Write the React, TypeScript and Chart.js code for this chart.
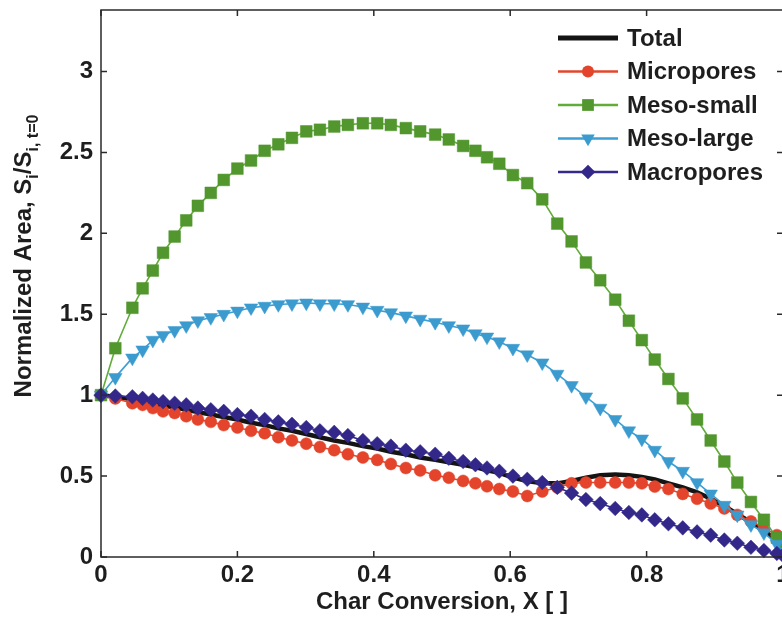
import React, { useEffect, useRef } from "react";
import { Chart, registerables } from "chart.js";

Chart.register(...registerables);

// Char conversion values (shared by all series)
const X = [
  0, 0.021, 0.046, 0.061, 0.076, 0.091, 0.108, 0.125, 0.142, 0.161,
  0.18, 0.2, 0.22, 0.24, 0.26, 0.28, 0.301, 0.321, 0.342, 0.362,
  0.384, 0.405, 0.425, 0.447, 0.468, 0.49, 0.51, 0.531, 0.549, 0.566,
  0.584, 0.604, 0.625, 0.647, 0.669, 0.69, 0.711, 0.732, 0.754, 0.774,
  0.793, 0.812, 0.832, 0.853, 0.874, 0.894, 0.914, 0.933, 0.953, 0.972,
  0.991, 1.0,
];

const TOTAL = [
  1.0, 0.99, 0.975, 0.965, 0.95, 0.935, 0.925, 0.91, 0.895, 0.88,
  0.865, 0.85, 0.83, 0.815, 0.795, 0.78, 0.76, 0.74, 0.72, 0.705,
  0.685, 0.67, 0.65, 0.635, 0.615, 0.6, 0.585, 0.57, 0.555, 0.535,
  0.52, 0.49, 0.47, 0.455, 0.455, 0.47, 0.49, 0.505, 0.51, 0.505,
  0.495, 0.48, 0.455, 0.43, 0.4, 0.36, 0.315, 0.265, 0.215, 0.16,
  0.105, 0.05,
];

const MICROPORES = [
  1.0, 0.98, 0.95, 0.94, 0.92, 0.9, 0.89, 0.87, 0.85, 0.835,
  0.815, 0.8, 0.78, 0.765, 0.74, 0.72, 0.7, 0.68, 0.66, 0.635,
  0.615, 0.6, 0.575, 0.55, 0.535, 0.505, 0.49, 0.47, 0.455, 0.437,
  0.42, 0.405, 0.377, 0.405, 0.43, 0.455, 0.46, 0.46, 0.46, 0.46,
  0.455, 0.435, 0.42, 0.39, 0.36, 0.33, 0.3, 0.26, 0.22, 0.18,
  0.135, 0.06,
];

const MESO_SMALL = [
  1.0, 1.29, 1.54, 1.66, 1.77, 1.88, 1.98, 2.08, 2.17, 2.25,
  2.33, 2.4, 2.45, 2.51, 2.55, 2.59, 2.63, 2.64, 2.66, 2.67,
  2.68, 2.68, 2.67, 2.65, 2.63, 2.61, 2.58, 2.54, 2.51, 2.47,
  2.43, 2.36, 2.31, 2.21, 2.06, 1.95, 1.82, 1.71, 1.59, 1.46,
  1.34, 1.22, 1.1, 0.98, 0.85, 0.72, 0.59, 0.46, 0.34, 0.23,
  0.12, 0.05,
];

const MESO_LARGE = [
  1.0, 1.11, 1.23, 1.28, 1.34, 1.37, 1.4, 1.43, 1.46, 1.48,
  1.5, 1.52, 1.54, 1.55, 1.56, 1.565, 1.57, 1.565, 1.565, 1.56,
  1.545, 1.525, 1.51, 1.49, 1.47, 1.45, 1.43, 1.41, 1.38, 1.36,
  1.33, 1.29, 1.25, 1.2, 1.13, 1.06, 0.99, 0.92, 0.85, 0.78,
  0.73, 0.66, 0.59, 0.53, 0.46, 0.39, 0.32, 0.26, 0.2, 0.15,
  0.08, 0.03,
];

const MACROPORES = [
  1.0, 0.995, 0.99, 0.98, 0.97, 0.96, 0.95, 0.94, 0.92, 0.91,
  0.9, 0.88, 0.87, 0.85, 0.835, 0.82, 0.8, 0.78, 0.77, 0.75,
  0.72, 0.7, 0.685, 0.66, 0.65, 0.635, 0.61, 0.59, 0.57, 0.55,
  0.53, 0.5, 0.48, 0.46, 0.43, 0.395, 0.355, 0.33, 0.3, 0.275,
  0.26, 0.23, 0.205, 0.18, 0.155, 0.135, 0.105, 0.085, 0.06, 0.04,
  0.022, 0.01,
];

const X_TICKS = [0, 0.2, 0.4, 0.6, 0.8, 1];
const Y_TICKS = [0, 0.5, 1, 1.5, 2, 2.5, 3];
const X_MIN = 0;
const X_MAX = 1;
const Y_MIN = 0;
const Y_MAX = 3.38;

const X_TITLE = "Char Conversion, X [ ]";
const Y_TITLE_PARTS = [
  { text: "Normalized Area, S", sub: false },
  { text: "i", sub: true },
  { text: "/S", sub: false },
  { text: "i, t=0", sub: true },
];

const FONT = "'Liberation Sans', Arial, Helvetica, sans-serif";
const TEXT = "#1e1e1e";

type SeriesStyle = {
  label: string;
  values: number[];
  line: string;
  fill: string;
  width: number;
  marker: string | false;
  radius: number;
  rotation: number;
};

const SERIES: SeriesStyle[] = [
  { label: "Total", values: TOTAL, line: "#141414", fill: "#141414", width: 4.5, marker: false, radius: 0, rotation: 0 },
  { label: "Micropores", values: MICROPORES, line: "#e2472d", fill: "#e3442b", width: 1.6, marker: "circle", radius: 6, rotation: 0 },
  { label: "Meso-small", values: MESO_SMALL, line: "#62ac3a", fill: "#52962e", width: 1.6, marker: "rect", radius: 8.3, rotation: 0 },
  { label: "Meso-large", values: MESO_LARGE, line: "#3d9fd3", fill: "#3b9bcf", width: 1.6, marker: "triangle", radius: 7.8, rotation: 180 },
  { label: "Macropores", values: MACROPORES, line: "#352a8a", fill: "#33288a", width: 1.6, marker: "rectRot", radius: 7.3, rotation: 0 },
];

function drawMarker(ctx: CanvasRenderingContext2D, s: SeriesStyle, x: number, y: number) {
  if (!s.marker) return;
  ctx.fillStyle = s.fill;
  ctx.beginPath();
  const r = s.radius;
  if (s.marker === "circle") {
    ctx.arc(x, y, r, 0, Math.PI * 2);
  } else if (s.marker === "rect") {
    const h = r * Math.SQRT1_2;
    ctx.rect(x - h, y - h, 2 * h, 2 * h);
  } else if (s.marker === "triangle") {
    const w = r * Math.sin(Math.PI / 3);
    ctx.moveTo(x, y + r);
    ctx.lineTo(x - w, y - r / 2);
    ctx.lineTo(x + w, y - r / 2);
    ctx.closePath();
  } else if (s.marker === "rectRot") {
    ctx.moveTo(x, y - r);
    ctx.lineTo(x + r, y);
    ctx.lineTo(x, y + r);
    ctx.lineTo(x - r, y);
    ctx.closePath();
  }
  ctx.fill();
}

const framePlugin = {
  id: "frameAndDecor",
  afterDraw(chart: any) {
    const { ctx, chartArea: a, scales } = chart;
    ctx.save();
    ctx.strokeStyle = "#2a2a2a";
    ctx.lineWidth = 1.5;
    ctx.strokeRect(a.left, a.top, a.right - a.left, a.bottom - a.top);
    const tl = 6;
    ctx.beginPath();
    X_TICKS.forEach((v) => {
      const px = scales.x.getPixelForValue(v);
      ctx.moveTo(px, a.bottom);
      ctx.lineTo(px, a.bottom - tl);
      ctx.moveTo(px, a.top);
      ctx.lineTo(px, a.top + tl);
    });
    Y_TICKS.forEach((v) => {
      const py = scales.y.getPixelForValue(v);
      ctx.moveTo(a.left, py);
      ctx.lineTo(a.left + tl, py);
      ctx.moveTo(a.right, py);
      ctx.lineTo(a.right - tl, py);
    });
    ctx.stroke();

    // y-axis title with subscripts
    ctx.fillStyle = TEXT;
    ctx.textAlign = "left";
    ctx.textBaseline = "alphabetic";
    const mainFont = `bold 24px ${FONT}`;
    const subFont = `bold 16px ${FONT}`;
    const widths = Y_TITLE_PARTS.map((p) => {
      ctx.font = p.sub ? subFont : mainFont;
      return ctx.measureText(p.text).width;
    });
    const total = widths.reduce((s, w) => s + w, 0);
    ctx.save();
    ctx.translate(31, 256);
    ctx.rotate(-Math.PI / 2);
    let lx = -total / 2;
    Y_TITLE_PARTS.forEach((p, i) => {
      ctx.font = p.sub ? subFont : mainFont;
      ctx.fillText(p.text, lx, p.sub ? 7 : 0);
      lx += widths[i];
    });
    ctx.restore();

    // legend
    const lx0 = 558;
    const lx1 = 618;
    const tx = 627;
    SERIES.forEach((s, i) => {
      const y = 38 + i * 33.5;
      ctx.strokeStyle = s.line;
      ctx.lineWidth = s.marker ? 2.5 : 5;
      ctx.beginPath();
      ctx.moveTo(lx0, y);
      ctx.lineTo(lx1, y);
      ctx.stroke();
      drawMarker(ctx, s, (lx0 + lx1) / 2, y);
      ctx.fillStyle = TEXT;
      ctx.font = `bold 24px ${FONT}`;
      ctx.textBaseline = "middle";
      ctx.fillText(s.label, tx, y + 1);
    });
    ctx.restore();
  },
};

export default function App() {
  const ref = useRef<HTMLCanvasElement | null>(null);

  useEffect(() => {
    if (!ref.current) return;
    const datasets = SERIES.map((s, i) => ({
      label: s.label,
      data: X.map((x, k) => ({ x, y: s.values[k] })),
      borderColor: s.line,
      backgroundColor: s.fill,
      borderWidth: s.width,
      pointStyle: s.marker || "circle",
      pointRadius: s.marker ? s.radius : 0,
      pointRotation: s.rotation,
      pointBackgroundColor: s.fill,
      pointBorderColor: s.fill,
      pointBorderWidth: 0.5,
      tension: 0,
      fill: false,
      clip: false as any,
      order: SERIES.length - i,
    }));

    const tickFont = { family: FONT, size: 24, weight: "bold" as const };

    const chart = new Chart(ref.current, {
      type: "line",
      data: { datasets },
      options: {
        animation: false,
        responsive: false,
        devicePixelRatio: 1,
        layout: { padding: { top: 10, right: 17, bottom: 0, left: 0 } },
        plugins: { legend: { display: false }, tooltip: { enabled: false } },
        scales: {
          x: {
            type: "linear",
            min: X_MIN,
            max: X_MAX,
            afterBuildTicks: (s: any) => {
              s.ticks = X_TICKS.map((value) => ({ value }));
            },
            afterFit: (s: any) => {
              s.height = 62;
              s.paddingLeft = 0;
              s.paddingRight = 0;
            },
            grid: { display: false, drawTicks: false },
            border: { display: false },
            ticks: {
              padding: 4,
              color: TEXT,
              font: tickFont,
              maxRotation: 0,
              autoSkip: false,
              callback: (v: any) => String(v),
            },
            title: {
              display: true,
              text: X_TITLE,
              color: TEXT,
              font: tickFont,
              padding: { top: 0, bottom: 2 },
            },
          },
          y: {
            type: "linear",
            min: Y_MIN,
            max: Y_MAX,
            afterBuildTicks: (s: any) => {
              s.ticks = Y_TICKS.map((value) => ({ value }));
            },
            afterFit: (s: any) => {
              s.width = 101;
              s.paddingTop = 0;
              s.paddingBottom = 0;
            },
            grid: { display: false, drawTicks: false },
            border: { display: false },
            ticks: {
              padding: 8,
              color: TEXT,
              font: tickFont,
              autoSkip: false,
              callback: (v: any) => String(v),
            },
          },
        },
      },
      plugins: [framePlugin],
    });
    return () => chart.destroy();
  }, []);

  return (
    <div
      style={{
        position: "fixed",
        left: 0,
        top: 0,
        width: 782,
        height: 619,
        overflow: "hidden",
        background: "#ffffff",
      }}
    >
      <canvas ref={ref} width={800} height={619} style={{ display: "block" }} />
    </div>
  );
}
